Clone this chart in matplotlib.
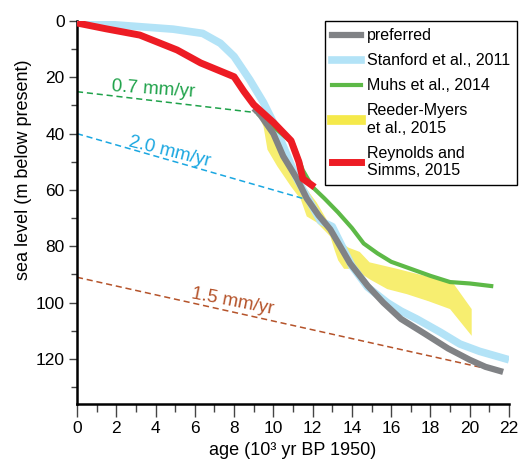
import matplotlib
matplotlib.use("Agg")
import matplotlib.pyplot as plt
from matplotlib.lines import Line2D
from matplotlib.patches import Polygon

plt.rcParams['font.family'] = ['Liberation Sans', 'DejaVu Sans']

# preferred curve (age in kyr BP, sea level in m below present)
pref_age = [9.0, 9.3, 10.0, 10.5, 11.2, 11.7, 12.3, 12.9, 13.4, 13.9, 14.8, 15.6, 16.5, 17.7, 18.9, 20.0, 20.8, 21.7]
pref_sl = [31, 33, 40, 48, 56, 63, 69, 74, 80, 86, 94, 100, 105.8, 111, 116.3, 120.3, 122.8, 124.6]

# Stanford et al., 2011
stan_age = [0, 2.0, 4.9, 6.4, 7.3, 8.0, 8.8, 9.5, 10.0, 10.6, 11.2, 11.8, 12.4, 13.0, 13.5, 14.0, 14.8, 15.8, 16.5, 17.3, 18.5, 19.5, 20.5, 21.5, 22.0]
stan_sl = [0, 1.4, 2.9, 4.4, 7.9, 12.6, 20.9, 29, 36, 46, 56, 63.5, 71, 73, 80, 87, 94.5, 100, 103, 105.8, 110.5, 114.7, 117.3, 119.3, 120.3]

# Muhs et al., 2014
muhs_age = [9.2, 10.0, 11.0, 11.5, 12.0, 12.6, 13.3, 14.0, 14.6, 15.3, 16.0, 17.0, 18.0, 19.0, 20.0, 21.2]
muhs_sl = [33, 37.5, 43.5, 53, 59, 63, 68, 73.5, 79, 82.5, 85.5, 88, 90.5, 92.7, 93.2, 94.2]

# Reynolds and Simms, 2015
reyn_age = [0, 1.5, 3.2, 5.1, 6.3, 8.0, 8.5, 9.0, 10.0, 10.9, 11.3, 11.5, 12.1]
reyn_sl = [0.7, 2.8, 5, 10.3, 14.9, 19.8, 25, 29.7, 36, 42.5, 50, 56, 59]

# Reeder-Myers et al., 2015 envelope (deep edge, then shallow edge back)
reed_age = [9.2, 9.5, 9.7, 10.2, 10.9, 11.4, 11.7, 12.2, 12.9, 13.1, 13.3, 13.6, 14.1, 14.9, 15.8, 16.8, 17.9, 19.0, 20.1,
            20.1, 19.2, 18.0, 16.3, 14.9, 14.4, 13.8, 13.2, 12.8, 12.2, 11.2, 10.4, 9.7]
reed_sl = [32.6, 37.5, 45.7, 51.6, 58.8, 63.4, 69.4, 71.5, 76.5, 81, 85, 88, 88, 91.7, 95.2, 97, 99.5, 102.3, 111.8,
           102.3, 93.5, 91, 88, 85.7, 82, 80.4, 77, 71.5, 64.4, 55, 45.7, 36]

# rate lines
rate_labels = ['0.7 mm/yr', '2.0 mm/yr', '1.5 mm/yr']
rate_age = [[0, 9.2], [0, 11.7], [0, 20.9]]
rate_sl = [[25.1, 32.6], [40, 63.4], [91, 123.5]]
rate_colors = ['#1fa24a', '#1aa7e1', '#b5532a']
rate_text_xy = [(3.9, 24.2), (4.7, 46.5), (7.9, 99.5)]
rate_text_rot = [-4, -14, -11]

fig = plt.figure(figsize=(5.26, 4.63), dpi=100)
ax = fig.add_axes([77/526, 1-404/463, 432/526, 383/463])

ax.add_patch(Polygon(list(zip(reed_age, reed_sl)), closed=True, facecolor='#f7ee70',
                     edgecolor='none', zorder=1))
for i in range(3):
    ax.plot(rate_age[i], rate_sl[i], color=rate_colors[i], lw=1.1, ls=(0, (4, 2.5)), zorder=2)
    ax.text(rate_text_xy[i][0], rate_text_xy[i][1], rate_labels[i], color=rate_colors[i],
            fontsize=13.5, rotation=rate_text_rot[i], ha='center', va='center', zorder=2)

ax.plot(stan_age, stan_sl, color='#b3e3f7', lw=5.5, solid_capstyle='butt', zorder=3)
ax.plot(muhs_age, muhs_sl, color='#5db947', lw=3, solid_capstyle='butt', zorder=4)
ax.plot(pref_age, pref_sl, color='#808285', lw=4.5, solid_capstyle='butt', zorder=5)
ax.plot(reyn_age, reyn_sl, color='#ed1c24', lw=5, solid_capstyle='butt', zorder=6)

ax.set_xlim(0, 22)
ax.set_ylim(136, 0)
ax.set_xticks(range(0, 23, 2))
ax.set_xticks(range(0, 23, 1), minor=True)
ax.set_yticks(range(0, 121, 20))
ax.set_yticks(range(0, 131, 10), minor=True)
ax.spines['top'].set_visible(False)
ax.spines['right'].set_visible(False)
ax.spines['left'].set_linewidth(1.8)
ax.spines['bottom'].set_linewidth(1.8)
ax.tick_params(axis='both', which='both', direction='out', width=1.0, color='#444444', labelsize=12.5)
ax.tick_params(axis='x', which='major', length=9)
ax.tick_params(axis='x', which='minor', length=5.5)
ax.tick_params(axis='y', which='major', length=5.5)
ax.tick_params(axis='y', which='minor', length=4)

ax.set_xlabel('age (10³ yr BP 1950)', fontsize=13)
ax.set_ylabel('sea level (m below present)', fontsize=13)
ax.xaxis.set_label_coords(0.498, -0.1)
ax.yaxis.set_label_coords(-0.104, 0.611)

handles = [
    Line2D([], [], color='#808285', lw=4.5),
    Line2D([], [], color='#b3e3f7', lw=5.5),
    Line2D([], [], color='#5db947', lw=3),
    Line2D([], [], color='#f5e94a', lw=7),
    Line2D([], [], color='#ed1c24', lw=5),
]
labels = ['preferred', 'Stanford et al., 2011', 'Muhs et al., 2014',
          'Reeder-Myers\net al., 2015', 'Reynolds and\nSimms, 2015']
leg = fig.legend(handles, labels, loc='upper left', bbox_to_anchor=(325/526, 1-21/463),
                 borderaxespad=0, fontsize=11.5, handlelength=1.8, handletextpad=0.35,
                 labelspacing=0.63, borderpad=0.45, fancybox=False, framealpha=1,
                 edgecolor='black')
leg.get_frame().set_linewidth(1.0)

fig.savefig('out.png', dpi=100)
